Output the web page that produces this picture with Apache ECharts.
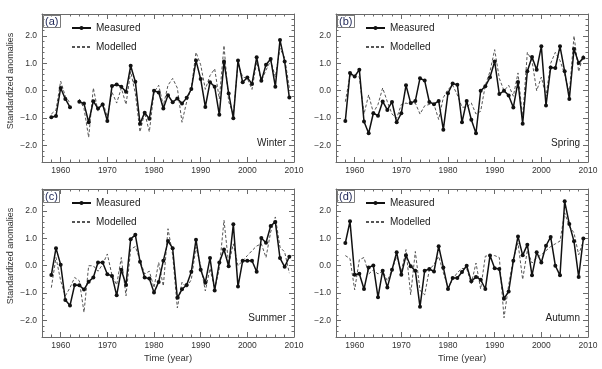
<!DOCTYPE html>
<html><head><meta charset="utf-8">
<script src="https://cdn.jsdelivr.net/npm/echarts@6/dist/echarts.min.js"></script>
<style>html,body{margin:0;padding:0;background:#fff}#c{width:602px;height:369px}</style>
</head><body><div id="c"></div>
<script>
const years = [1958,1959,1960,1961,1962,1963,1964,1965,1966,1967,
  1968,1969,1970,1971,1972,1973,1974,1975,1976,1977,
  1978,1979,1980,1981,1982,1983,1984,1985,1986,1987,
  1988,1989,1990,1991,1992,1993,1994,1995,1996,1997,
  1998,1999,2000,2001,2002,2003,2004,2005,2006,2007,
  2008,2009];

const winterMeasured = [-0.97,-0.92,0.1,-0.3,-0.6,null,-0.4,-0.47,-1.15,-0.38,
  -0.65,-0.5,-1.1,0.17,0.23,0.15,-0.04,0.91,0.33,-1.2,
  -0.8,-1.02,0.0,-0.06,-0.65,-0.16,-0.42,-0.28,-0.47,-0.26,
  0.06,1.1,0.43,-0.59,0.31,0.15,-0.88,1.07,-0.1,-1.0,
  1.1,0.31,0.48,0.25,1.22,0.36,0.95,1.16,0.15,1.85,
  1.07,-0.25];
const winterModelled = [-0.85,-0.7,0.35,-0.2,-0.45,null,-0.3,-0.65,-1.7,0.1,
  -0.75,-0.4,-0.95,-0.05,-0.45,0.1,-0.5,0.7,-0.1,-1.5,
  -0.8,-1.5,-0.05,0.2,-0.55,0.2,0.45,0.1,-1.15,-0.4,
  0.1,1.4,0.95,0.05,0.55,0.8,-0.3,1.65,-0.4,-0.85,
  1.0,0.5,0.45,0.05,1.05,0.35,0.75,1.1,0.5,1.55,
  1.2,0.1];

const springMeasured = [-1.1,0.65,0.52,0.77,-1.12,-1.55,-0.82,-0.91,-0.39,-0.7,
  -0.41,-1.15,-0.82,0.2,-0.45,-0.37,0.46,0.37,-0.41,-0.49,
  -0.37,-1.42,-0.09,0.26,0.22,-1.15,-0.37,-1.06,-1.55,0.0,
  0.16,0.49,1.07,-0.12,0.0,-0.17,-0.61,0.32,-1.2,0.71,
  1.23,0.77,1.62,-0.54,0.85,0.83,1.62,0.71,-0.3,1.52,
  1.01,1.2];
const springModelled = [-0.4,0.55,0.55,0.5,-0.85,-0.15,-0.8,-0.5,0.1,-0.4,
  -0.85,-1.0,-0.5,-0.45,-0.5,-0.45,-0.85,-0.55,-0.5,-0.5,
  -1.05,-0.25,0.05,0.2,-0.15,-0.6,-0.6,-0.45,-0.85,-0.75,
  0.2,0.7,1.5,0.45,0.0,0.2,-0.2,0.65,-1.0,1.4,
  1.1,0.0,0.5,-0.2,1.0,1.4,1.1,0.6,-0.1,2.0,
  0.7,1.3];

const summerMeasured = [-0.34,0.64,0.04,-1.25,-1.45,-0.7,-0.71,-0.87,-0.58,-0.43,
  0.12,0.12,-0.31,-0.37,-1.08,-0.15,-0.7,0.97,1.13,0.15,
  -0.43,-0.47,-0.98,-0.59,0.18,0.9,0.64,-1.17,-0.86,-0.7,
  -0.22,0.95,-0.15,-0.62,0.28,-0.9,0.12,0.59,-0.02,1.51,
  -0.76,0.18,0.18,0.18,-0.22,1.01,0.84,1.45,1.6,0.28,
  -0.04,0.33];
const summerModelled = [-0.8,0.3,-0.55,-1.1,-0.8,-0.43,-0.55,-1.7,0.0,0.0,
  -0.2,0.05,0.43,-0.35,-0.7,0.3,-1.1,0.6,0.7,0.2,
  -0.3,-0.2,-0.8,0.12,-0.74,1.35,0.4,-1.54,-0.6,-0.8,
  -0.5,0.68,0.0,-0.92,-0.1,-0.85,-0.1,1.66,0.05,0.8,
  0.0,0.18,0.37,0.55,0.72,0.8,0.3,1.23,1.78,0.68,
  0.5,-0.27];

const autumnMeasured = [0.83,1.62,-0.33,-0.29,-0.85,-0.06,0.01,-1.15,-0.18,-0.79,
  -0.15,0.49,-0.33,0.38,-0.02,-0.18,-1.5,-0.18,-0.12,-0.21,
  0.71,-0.06,-0.85,-0.45,-0.45,-0.23,0.0,-0.57,-0.41,-0.51,
  -0.85,0.37,-0.09,-0.12,-1.2,-0.94,0.18,1.07,0.38,0.77,
  -0.35,0.49,0.12,0.73,1.05,0.0,-0.35,2.35,1.52,0.89,
  -0.41,0.99];
const autumnModelled = [0.37,0.26,-0.88,0.22,0.3,-0.3,-0.15,-0.3,-0.2,-0.55,
  -0.15,0.34,-0.2,0.59,-1.06,0.52,-0.9,-1.06,-0.15,0.05,
  0.34,-0.25,-0.8,-0.5,-0.25,-0.1,-0.1,-0.65,0.1,-0.85,
  0.35,0.37,0.37,0.3,-1.9,-0.7,0.25,0.83,-0.5,0.55,
  0.1,0.3,0.4,0.55,0.7,0.8,0.9,1.93,1.44,1.2,
  0.4,0.9];

const xTickLabels = [1960,1970,1980,1990,2000,2010];
const yTickLabels = [-2,-1,0,1,2];
const panelTags = ['(a)','(b)','(c)','(d)'];
const seasonNames = ['Winter','Spring','Summer','Autumn'];
const seriesNames = ['Measured','Modelled'];
const xName = 'Time (year)';
const yName = 'Standardized anomalies';

const measuredSets = [winterMeasured, springMeasured, summerMeasured, autumnMeasured];
const modelledSets = [winterModelled, springModelled, summerModelled, autumnModelled];

const W = 252, H = 148;
const rects = [[42,14],[336,14],[42,189],[336,189]];
const FONT = 'Liberation Sans, Arial, Helvetica, sans-serif';
const AX = '#6a6a6a';
const TXT = '#333';

const grid = [], xAxis = [], yAxis = [], series = [], title = [], legend = [];
const pairs = vals => years.map((y, i) => [y, vals[i] == null ? null : vals[i]]);

rects.forEach(([L, T], p) => {
  const gMinor = grid.length;
  grid.push({left: L, top: T, width: W, height: H});
  const gMajor = grid.length;
  grid.push({left: L, top: T, width: W, height: H});

  ['bottom','top'].forEach(pos => xAxis.push({
    gridIndex: gMinor, type: 'value', position: pos, min: 1956, max: 2010, interval: 2,
    axisLine: {show: true, onZero: false, lineStyle: {color: AX, width: 1}},
    axisTick: {show: true, inside: true, length: 2.5, lineStyle: {color: AX}},
    axisLabel: {show: false}, splitLine: {show: false}
  }));
  ['left','right'].forEach(pos => yAxis.push({
    gridIndex: gMinor, type: 'value', position: pos, min: -2.6, max: 2.8, interval: 0.2,
    axisLine: {show: true, onZero: false, lineStyle: {color: AX, width: 1}},
    axisTick: {show: true, inside: true, length: 2.5, lineStyle: {color: AX}},
    axisLabel: {show: false}, splitLine: {show: false}
  }));

  const bottomRow = p >= 2, leftCol = p % 2 === 0;
  const xMainIdx = xAxis.length;
  xAxis.push({
    gridIndex: gMajor, type: 'value', position: 'bottom', min: 1956, max: 2010,
    axisLine: {show: false, onZero: false},
    axisTick: {show: true, inside: true, length: 5, customValues: xTickLabels, lineStyle: {color: AX}},
    axisLabel: {show: true, customValues: xTickLabels, fontSize: 8.5, margin: 4, color: TXT, fontFamily: FONT,
      formatter: v => String(v)},
    splitLine: {show: false},
    name: bottomRow ? xName : '', nameLocation: 'middle', nameGap: 16,
    nameTextStyle: {fontSize: 9.5, color: TXT, fontFamily: FONT}
  });
  xAxis.push({
    gridIndex: gMajor, type: 'value', position: 'top', min: 1956, max: 2010,
    axisLine: {show: false, onZero: false},
    axisTick: {show: true, inside: true, length: 5, customValues: xTickLabels, lineStyle: {color: AX}},
    axisLabel: {show: false}, splitLine: {show: false}
  });
  const yMainIdx = yAxis.length;
  yAxis.push({
    gridIndex: gMajor, type: 'value', position: 'left', min: -2.6, max: 2.8,
    axisLine: {show: false, onZero: false},
    axisTick: {show: true, inside: true, length: 5, customValues: yTickLabels, lineStyle: {color: AX}},
    axisLabel: {show: true, customValues: yTickLabels, fontSize: 8.5, margin: 5, color: TXT, fontFamily: FONT,
      formatter: v => Number(v).toFixed(1).replace('-', '\u2212')},
    splitLine: {show: false},
    name: leftCol ? yName : '', nameLocation: 'middle', nameGap: 27, nameRotate: 90,
    nameTextStyle: {fontSize: 9, color: TXT, fontFamily: FONT, padding: [0, 0, 0, 14]}
  });
  yAxis.push({
    gridIndex: gMajor, type: 'value', position: 'right', min: -2.6, max: 2.8,
    axisLine: {show: false, onZero: false},
    axisTick: {show: true, inside: true, length: 5, customValues: yTickLabels, lineStyle: {color: AX}},
    axisLabel: {show: false}, splitLine: {show: false}
  });

  series.push({
    name: seriesNames[1], type: 'line', xAxisIndex: xMainIdx, yAxisIndex: yMainIdx,
    data: pairs(modelledSets[p]), showSymbol: false, symbol: 'none',
    lineStyle: {color: '#555', width: 1, type: [3, 2]}, itemStyle: {color: '#555'},
    connectNulls: false, z: 2
  });
  series.push({
    name: seriesNames[0], type: 'line', xAxisIndex: xMainIdx, yAxisIndex: yMainIdx,
    data: pairs(measuredSets[p]), symbol: 'circle', symbolSize: 4, showSymbol: true,
    lineStyle: {color: '#111', width: 1.5}, itemStyle: {color: '#111'},
    connectNulls: false, z: 3
  });

  title.push({
    text: panelTags[p], left: L + 1, top: T + 1, padding: [1, 2, 1, 2],
    borderColor: '#7a7a7a', borderWidth: 1,
    textStyle: {fontSize: 11, fontWeight: 'normal', color: '#1c2455', fontFamily: FONT}
  });
  title.push({
    text: seasonNames[p], right: 602 - (L + W) + 8, top: T + H - 24, padding: 0,
    textStyle: {fontSize: 10, fontWeight: 'normal', color: '#222', fontFamily: FONT}
  });
  legend.push({
    data: [{name: seriesNames[0]}, {name: seriesNames[1], itemStyle: {opacity: 0}}],
    orient: 'vertical', left: L + 29, top: T + 8,
    itemWidth: 19, itemHeight: 5, itemGap: 7, selectedMode: false, padding: 0,
    textStyle: {fontSize: 10, lineHeight: 12, color: '#222', fontFamily: FONT}
  });
});

const chart = echarts.init(document.getElementById('c'), null, {renderer: 'canvas'});
chart.setOption({
  animation: false,
  backgroundColor: '#fff',
  textStyle: {fontFamily: FONT},
  grid, xAxis, yAxis, series, title, legend
});
</script>
</body></html>
